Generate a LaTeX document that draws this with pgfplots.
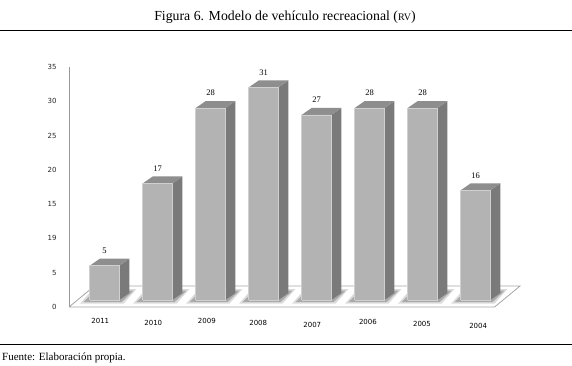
\documentclass[border=0pt]{standalone}
\usepackage{fontspec}
\setmainfont{Liberation Serif}
\newfontfamily\tah{DejaVu Sans}
\usepackage{pgfplots}
\usepackage{pgfplotstable}
\pgfplotsset{compat=1.18}
\definecolor{frontc}{HTML}{B3B3B3}
\definecolor{sidec}{HTML}{7A7A7A}
\definecolor{topc}{HTML}{8E8E8E}
\definecolor{edgec}{HTML}{D0D0D0}
\definecolor{floorc}{HTML}{A6A6A6}

\pgfplotstableread{
idx year v lx ly
0 2011 5 -0.08 -2.04
1 2010 17 0.92 -2.33
2 2009 28 1.93 -2.04
3 2008 31 2.90 -2.33
4 2007 27 3.92 -2.62
5 2006 28 4.97 -2.19
6 2005 28 5.99 -2.48
7 2004 16 7.05 -2.77
}\datatable

\newcommand\drawbar[2]{%
 \pgfmathsetmacro\xl{#1-0.28}%
 \pgfmathsetmacro\xr{#1+0.28}%
 \pgfmathsetmacro\xrd{#1+0.28+0.19}%
 \pgfmathsetmacro\xld{#1-0.28+0.19}%
 \pgfmathsetmacro\bb{1.02}%
 \pgfmathsetmacro\bd{2.04}%
 \pgfmathsetmacro\tp{#2+1.02}%
 \pgfmathsetmacro\td{#2+2.04}%
 \pgfmathsetmacro\sa{#1-0.46}%
 \pgfmathsetmacro\sb{#1+0.36}%
 \pgfmathsetmacro\sc{#1+0.60}%
 \pgfmathsetmacro\sd{#1-0.22}%
 \pgfmathsetmacro\ea{#1-0.40}%
 \pgfmathsetmacro\eb{#1+0.32}%
 \pgfmathsetmacro\ec{#1+0.55}%
 \pgfmathsetmacro\ed{#1-0.18}%
 \edef\tmp{%
  \noexpand\addplot[fill=black,fill opacity=0.14,draw=none] coordinates {(\sa,0.5) (\sb,0.5) (\sc,2.6) (\sd,2.6) (\sa,0.5)};
  \noexpand\addplot[fill=black,fill opacity=0.22,draw=none] coordinates {(\ea,0.7) (\eb,0.7) (\ec,2.4) (\ed,2.4) (\ea,0.7)};
  \noexpand\addplot[fill=sidec,draw=none] coordinates {(\xr,\bb) (\xrd,\bd) (\xrd,\td) (\xr,\tp) (\xr,\bb)};
  \noexpand\addplot[fill=topc,draw=none] coordinates {(\xl,\tp) (\xr,\tp) (\xrd,\td) (\xld,\td) (\xl,\tp)};
  \noexpand\addplot[fill=frontc,draw=edgec,line width=0.6pt] coordinates {(\xl,\bb) (\xr,\bb) (\xr,\tp) (\xl,\tp) (\xl,\bb)};
 }\tmp
}

\begin{document}
\begin{tikzpicture}
\path[use as bounding box] (0pt,0pt) rectangle (572pt,365pt);
\begin{axis}[
  at={(69pt,58pt)}, anchor=south west,
  scale only axis, width=451.03pt, height=240pt,
  xmin=-0.67, xmax=7.84, ymin=0, ymax=35,
  axis y line*=left, axis x line=none,
  y axis line style={draw=gray!80, line width=0.6pt},
  ytick={0,5,10,15,20,25,30,35},
  yticklabels={0,5,19,15,20,25,30,35},
  xtick=\empty,
  major tick length=0pt,
  /pgf/number format/assume math mode=true,
  yticklabel style={font=\tah\fontsize{7}{8}\selectfont, xshift=-9pt, text=black!85},
  clip=false,
]
\addplot[fill=white, draw=floorc, line width=0.8pt] coordinates {(-0.67,0) (7.36,0) (7.84,3.06) (-0.19,3.06) (-0.67,0)};
\pgfplotsforeachungrouped \i in {0,...,7}{%
  \pgfplotstablegetelem{\i}{v}\of\datatable
  \let\val\pgfplotsretval
  \drawbar{\i}{\val}%
}
\addplot[draw=none, mark=none, nodes near coords, point meta=explicit symbolic,
  nodes near coords align={center},
  every node near coord/.style={font=\fontsize{8.5}{9}\selectfont, inner sep=0pt, text=black}]
  table[x=idx, y expr=\thisrow{v}+3.2, meta=v]{\datatable};
\addplot[draw=none, mark=none, nodes near coords, point meta=explicit symbolic,
  nodes near coords align={center},
  every node near coord/.style={font=\tah\fontsize{7}{8}\selectfont, inner sep=0pt, text=black}]
  table[x=lx, y=ly, meta=year]{\datatable};
\end{axis}
\node[font=\fontsize{13.8}{15}\selectfont] at (285pt,348pt) {Figura 6. Modelo de vehículo recreacional ({\fontsize{10}{11}\selectfont RV})};
\draw[line width=0.9pt] (0pt,335pt) -- (572pt,335pt);
\draw[line width=0.9pt] (0pt,21pt) -- (572pt,21pt);
\node[anchor=west, font=\fontsize{11}{12}\selectfont, inner sep=0pt] at (2pt,7.5pt) {Fuente: Elaboración propia.};
\end{tikzpicture}
\end{document}
